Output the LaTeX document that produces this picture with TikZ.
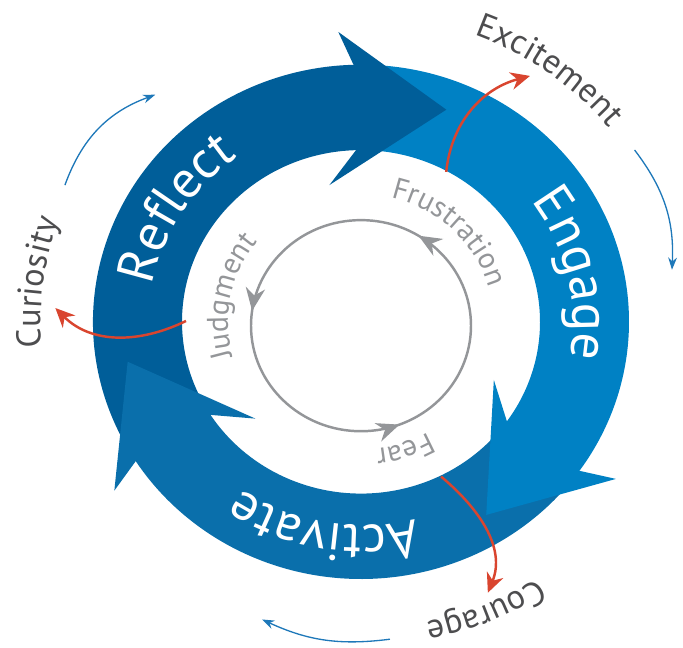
\documentclass[tikz,border=0pt]{standalone}
\usepackage{fontspec}
\setmainfont{PT Sans}
\usetikzlibrary{arrows.meta,decorations.text,decorations.markings}
\definecolor{reflectblue}{RGB}{0,94,153}
\definecolor{engageblue}{RGB}{0,129,196}
\definecolor{activateblue}{RGB}{10,111,171}
\definecolor{cycleblue}{RGB}{30,120,185}
\definecolor{feelred}{RGB}{217,69,47}
\definecolor{innergray}{RGB}{148,150,153}
\definecolor{labelgray}{RGB}{77,77,79}
\newcommand{\bandfont}{\fontsize{30}{36}\selectfont}
\newcommand{\feelfont}{\fontsize{19.5}{23}\selectfont}
\newcommand{\innerfont}{\fontsize{17}{20}\selectfont}
\tikzset{
  bandtext/.style={decorate, decoration={text along path, text align=center, text color=white, text={|\bandfont|#1}}},
  feeltext/.style={decorate, decoration={text along path, text align=center, text color=labelgray, text={|\feelfont|#1}}},
  innertext/.style={decorate, decoration={text along path, text align=center, text color=innergray, text={|\innerfont|#1}}},
  cyclearrow/.style={cycleblue, line width=0.75pt, -{Stealth[length=7pt,width=5pt]}},
  feelarrow/.style={feelred, line width=1.4pt, -{Stealth[length=11pt,width=10pt]}},
}
\begin{document}
\begin{tikzpicture}[x=0.02cm, y=0.0192cm]
    \useasboundingbox (-361,-339.6) rectangle (322,335.4);

    % bands first, heads on top
    \foreach \tail/\tip/\col in {208.1/68.9/reflectblue, 86.9/-58.1/engageblue, -40.1/-169.9/activateblue}
        \fill[\col] (\tail:268) arc[start angle=\tail, end angle={\tip+21}, radius=268]
            -- ({\tip+21}:179) arc[start angle={\tip+21}, end angle=\tail, radius=179] -- cycle;

    \foreach \tip/\col in {68.9/reflectblue, -58.1/engageblue, -169.9/activateblue}
        \fill[\col] ({\tip+22.7}:268) -- ({\tip+25.4}:303) -- (\tip:237)
            -- ({\tip+33.6}:146) -- ({\tip+22.7}:179) -- cycle;

    \path[bandtext=Reflect] (188:212) arc[start angle=188, end angle=108, radius=212];
    \path[bandtext=Engage] (53:212) arc[start angle=53, end angle=-27, radius=212];
    \path[bandtext=Activate] (-60:212) arc[start angle=-60, end angle=-140, radius=212];

    \path[feeltext=Excitement] (84:320) arc[start angle=84, end angle=24, radius=320];
    \path[feeltext=Curiosity] (202.8:320) arc[start angle=202.8, end angle=142.8, radius=320];
    \path[feeltext=Courage] (-37.3:320) arc[start angle=-37.3, end angle=-97.3, radius=320];

    \path[innertext=Frustration] (91:133) arc[start angle=91, end angle=1, radius=133];
    \path[innertext=Judgment] (213.5:133) arc[start angle=213.5, end angle=123.5, radius=133];
    \path[innertext=Fear] (-41.5:133) arc[start angle=-41.5, end angle=-101.5, radius=133];

    \draw[innergray, line width=1.4pt, postaction={decorate}, decoration={markings,
        mark=at position 0.161 with {\arrow{Stealth[length=13pt,width=11pt]}},
        mark=at position 0.478 with {\arrow{Stealth[length=13pt,width=11pt]}},
        mark=at position 0.808 with {\arrow{Stealth[length=13pt,width=11pt]}}}]
        (0,-4) circle[radius=110];

    \coordinate (excStart) at (61.4:178);
    \coordinate (excEnd) at (56.6:307);
    \coordinate (curStart) at (179.7:175);
    \coordinate (curEnd) at (177.3:306);
    \coordinate (couStart) at (-63.6:180);
    \coordinate (couEnd) at (-65.8:309.5);
    \draw[feelarrow] (excStart) to[out=84, in=195] (excEnd);
    \draw[feelarrow] (curStart) to[out=206, in=-45] (curEnd);
    \draw[feelarrow] (couStart) to[out=-40, in=68] (couEnd);

    \coordinate (leftFrom) at (154.3:328.6);
    \coordinate (leftTo) at (131:313.6);
    \coordinate (rightFrom) at (33.2:327);
    \coordinate (rightTo) at (9.9:315.7);
    \coordinate (lowFrom) at (-85:332);
    \coordinate (lowTo) at (-107.7:325.6);
    \draw[cyclearrow] (leftFrom) to[bend left=25] (leftTo);
    \draw[cyclearrow] (rightFrom) to[bend left=20] (rightTo);
    \draw[cyclearrow] (lowFrom) to[bend left=16] (lowTo);
\end{tikzpicture}
\end{document}
